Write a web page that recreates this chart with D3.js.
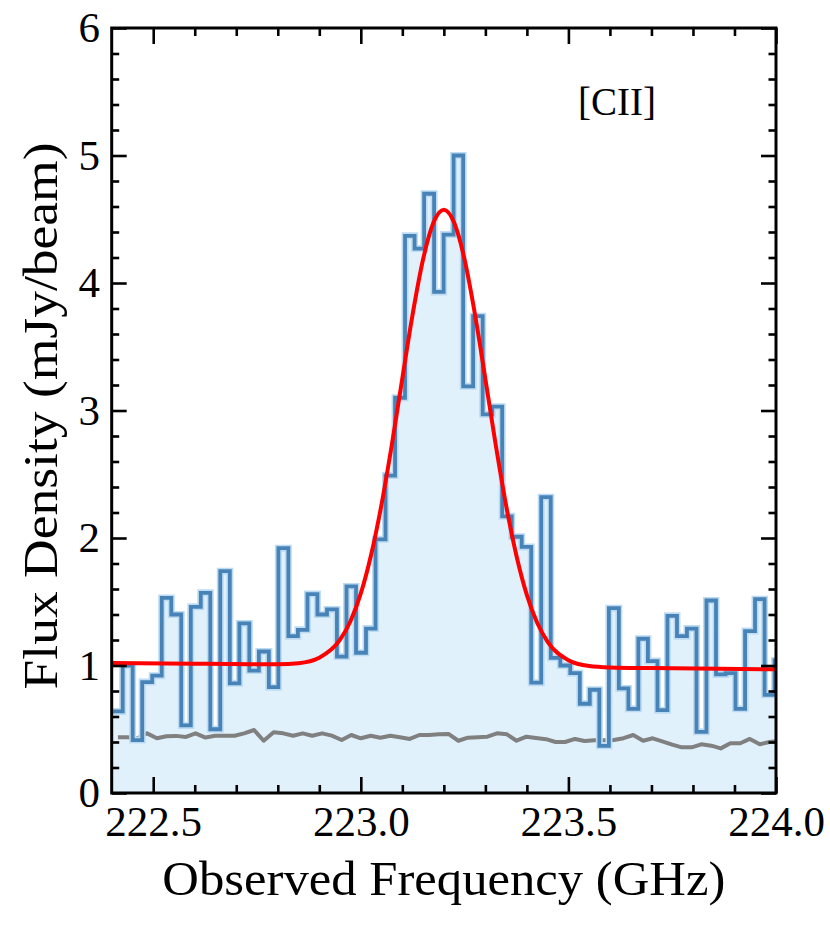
<!DOCTYPE html>
<html>
<head>
<meta charset="utf-8">
<title>[CII] spectrum</title>
<script src="https://d3js.org/d3.v7.min.js"></script>
<style>
  body { margin: 0; background: #fff; }
  svg text { font-family: "Liberation Serif", "DejaVu Serif", serif; fill: #000; }
</style>
</head>
<body>
<svg width="830" height="934"></svg>
<script>

// channel centres (GHz)
var freq = [222.415, 222.438, 222.462, 222.485, 222.509, 222.532, 222.555, 222.579, 222.602, 222.626,
            222.649, 222.673, 222.696, 222.719, 222.743, 222.766, 222.790, 222.813, 222.837, 222.860,
            222.883, 222.907, 222.930, 222.954, 222.977, 223.000, 223.024, 223.047, 223.071, 223.094,
            223.118, 223.141, 223.164, 223.188, 223.211, 223.235, 223.258, 223.282, 223.305, 223.328,
            223.352, 223.375, 223.399, 223.422, 223.446, 223.469, 223.492, 223.516, 223.539, 223.563,
            223.586, 223.609, 223.633, 223.656, 223.680, 223.703, 223.726, 223.750, 223.773, 223.797,
            223.820, 223.844, 223.867, 223.890, 223.914, 223.937, 223.961, 223.984, 224.008];

// spectrum (mJy/beam)
var flux = [0.64, 1.00, 0.415, 0.87, 0.92, 1.53, 1.40, 0.53, 1.46, 1.57,
            0.50, 1.74, 0.86, 1.33, 0.96, 1.11, 0.83, 1.92, 1.23, 1.28,
            1.56, 1.40, 1.44, 1.07, 1.62, 1.10, 1.29, 1.99, 2.49, 3.10,
            4.37, 4.27, 4.70, 3.93, 4.38, 5.00, 3.19, 3.74, 2.97, 3.03,
            2.17, 2.01, 1.93, 0.865, 2.32, 1.06, 1.00, 0.94, 0.70, 0.81,
            0.37, 1.45, 0.82, 0.66, 1.21, 1.035, 0.65, 1.39, 1.23, 1.29,
            0.48, 1.51, 0.93, 0.94, 0.66, 1.27, 1.52, 0.77, 1.04];

// noise per channel
var rms = [0.437, 0.437, 0.430, 0.468, 0.430, 0.445, 0.448, 0.440, 0.468, 0.435,
           0.449, 0.449, 0.449, 0.468, 0.494, 0.410, 0.476, 0.468, 0.449, 0.468,
           0.449, 0.468, 0.450, 0.416, 0.455, 0.429, 0.449, 0.434, 0.449, 0.437,
           0.424, 0.455, 0.455, 0.460, 0.463, 0.410, 0.434, 0.438, 0.442, 0.468,
           0.460, 0.410, 0.442, 0.432, 0.422, 0.400, 0.400, 0.424, 0.408, 0.413,
           0.414, 0.415, 0.430, 0.455, 0.410, 0.429, 0.405, 0.380, 0.358, 0.358,
           0.382, 0.371, 0.350, 0.390, 0.390, 0.424, 0.382, 0.400, 0.410];

// fitted profile
var fitFreq = [222.40, 222.60, 222.75, 222.80, 222.85, 222.90, 222.95, 222.975, 223.00, 223.025,
               223.05, 223.075, 223.10, 223.125, 223.15, 223.175, 223.20, 223.225, 223.25, 223.275,
               223.30, 223.325, 223.35, 223.375, 223.40, 223.425, 223.45, 223.50, 223.55, 223.60,
               223.70, 224.00];
var fitFlux = [1.020, 1.014, 1.010, 1.010, 1.018, 1.061, 1.202, 1.347, 1.565, 1.870,
               2.265, 2.737, 3.253, 3.758, 4.186, 4.474, 4.575, 4.472, 4.183, 3.753,
               3.247, 2.729, 2.255, 1.859, 1.552, 1.333, 1.186, 1.042, 0.996, 0.985,
               0.980, 0.970];

var xTicks = [222.5, 223.0, 223.5, 224.0];
var yTicks = [0, 1, 2, 3, 4, 5, 6];
var lineName = "[CII]";

var serif = '"Liberation Serif", "DejaVu Serif", serif';

var svg = d3.select("svg");
var pl = 111.7, pr = 776, pt = 28, pb = 793;

var x = d3.scaleLinear().domain([222.4, 224.0]).range([pl, pr]);
var y = d3.scaleLinear().domain([0, 6]).range([pb, pt]);

svg.append("defs").append("clipPath").attr("id", "plotclip")
  .append("rect").attr("x", pl).attr("y", pt).attr("width", pr - pl).attr("height", pb - pt);

var plot = svg.append("g").attr("clip-path", "url(#plotclip)");

// step points at the channel edges
var half = (freq[1] - freq[0]) / 2;
var steps = freq.map(function(f, i) { return [f - half, flux[i]]; });
steps.push([freq[freq.length - 1] + half, flux[flux.length - 1]]);

var area = d3.area()
  .x(function(d) { return x(d[0]); })
  .y0(y(0))
  .y1(function(d) { return y(d[1]); })
  .curve(d3.curveStepAfter);

var stepLine = d3.line()
  .x(function(d) { return x(d[0]); })
  .y(function(d) { return y(d[1]); })
  .curve(d3.curveStepAfter);

plot.append("path").datum(steps)
  .attr("d", area)
  .attr("fill", "#e1f1fc");

plot.append("path").datum(freq.map(function(f, i) { return [f, rms[i]]; }))
  .attr("d", d3.line().x(function(d) { return x(d[0]); }).y(function(d) { return y(d[1]); }))
  .attr("fill", "none")
  .attr("stroke", "#808080")
  .attr("stroke-width", 4)
  .attr("stroke-linejoin", "round");

// pale halo under the spectrum line
plot.append("path").datum(steps)
  .attr("d", stepLine)
  .attr("fill", "none")
  .attr("stroke", "#bddcf3")
  .attr("stroke-width", 7);

plot.append("path").datum(steps)
  .attr("d", stepLine)
  .attr("fill", "none")
  .attr("stroke", "#4883b8")
  .attr("stroke-width", 3.8);

plot.append("path").datum(fitFreq.map(function(f, i) { return [f, fitFlux[i]]; }))
  .attr("d", d3.line().x(function(d) { return x(d[0]); }).y(function(d) { return y(d[1]); })
    .curve(d3.curveMonotoneX))
  .attr("fill", "none")
  .attr("stroke", "#ff0000")
  .attr("stroke-width", 4);

// minor tick positions
var xMinor = d3.range(222.5, 224.0, 0.1).filter(function(v) {
  return Math.abs(v * 2 - Math.round(v * 2)) > 0.01;
});
var yMinor = d3.range(0.2, 6, 0.2).filter(function(v) {
  return Math.abs(v - Math.round(v)) > 0.01;
});

function styleAxis(g, size) {
  g.attr("font-family", serif);
  g.select(".domain").remove();
  g.selectAll("line").attr("stroke", "#000").attr("stroke-width", 2.6);
  g.selectAll("text").attr("font-size", size).attr("font-family", serif);
}

svg.append("g").attr("transform", "translate(0," + pb + ")")
  .call(d3.axisBottom(x).tickValues(xTicks).tickSize(-16).tickPadding(12).tickFormat(d3.format(".1f")))
  .call(styleAxis, 43);
svg.append("g").attr("transform", "translate(0," + pb + ")")
  .call(d3.axisBottom(x).tickValues(xMinor).tickSize(-8).tickFormat(""))
  .call(styleAxis, 0);
svg.append("g").attr("transform", "translate(0," + pt + ")")
  .call(d3.axisTop(x).tickValues(xTicks).tickSize(-16).tickFormat(""))
  .call(styleAxis, 0);
svg.append("g").attr("transform", "translate(0," + pt + ")")
  .call(d3.axisTop(x).tickValues(xMinor).tickSize(-8).tickFormat(""))
  .call(styleAxis, 0);

svg.append("g").attr("transform", "translate(" + pl + ",0)")
  .call(d3.axisLeft(y).tickValues(yTicks).tickSize(-15).tickPadding(11.7).tickFormat(d3.format("d")))
  .call(styleAxis, 43);
svg.append("g").attr("transform", "translate(" + pl + ",0)")
  .call(d3.axisLeft(y).tickValues(yMinor).tickSize(-7.5).tickFormat(""))
  .call(styleAxis, 0);
svg.append("g").attr("transform", "translate(" + pr + ",0)")
  .call(d3.axisRight(y).tickValues(yTicks).tickSize(-15).tickFormat(""))
  .call(styleAxis, 0);
svg.append("g").attr("transform", "translate(" + pr + ",0)")
  .call(d3.axisRight(y).tickValues(yMinor).tickSize(-7.5).tickFormat(""))
  .call(styleAxis, 0);

svg.append("rect")
  .attr("x", pl).attr("y", pt)
  .attr("width", pr - pl).attr("height", pb - pt)
  .attr("fill", "none")
  .attr("stroke", "#000")
  .attr("stroke-width", 3);

svg.append("text")
  .attr("x", (pl + pr) / 2).attr("y", 895)
  .attr("text-anchor", "middle")
  .attr("font-family", serif)
  .attr("font-size", 49)
  .attr("textLength", 563)
  .attr("lengthAdjust", "spacingAndGlyphs")
  .text("Observed Frequency (GHz)");

svg.append("text")
  .attr("transform", "translate(57,416) rotate(-90)")
  .attr("text-anchor", "middle")
  .attr("font-family", serif)
  .attr("font-size", 48)
  .attr("textLength", 547)
  .attr("lengthAdjust", "spacingAndGlyphs")
  .text("Flux Density (mJy/beam)");

svg.append("text")
  .attr("x", 617).attr("y", 115)
  .attr("text-anchor", "middle")
  .attr("font-family", serif)
  .attr("font-size", 39)
  .text(lineName);

</script>
</body>
</html>
